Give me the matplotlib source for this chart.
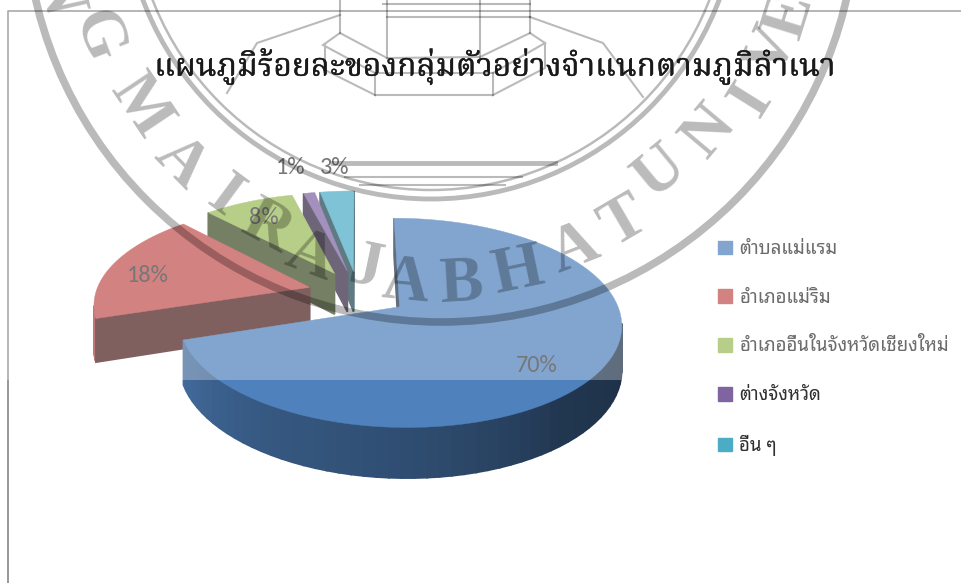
import math
import numpy as np
import matplotlib
matplotlib.use("Agg")
import matplotlib.pyplot as plt
import matplotlib.patheffects as pe
from matplotlib.colors import to_rgb
from matplotlib.patches import Circle, Patch, Polygon, Rectangle

# chart data
title = "แผนภูมิร้อยละของกลุ่มตัวอย่างจำแนกตามภูมิลำเนา"
categories = ["ตำบลแม่แรม", "อำเภอแม่ริม", "อำเภออื่นในจังหวัดเชียงใหม่", "ต่างจังหวัด", "อื่น ๆ"]
percents = [70, 18, 8, 1, 3]
colors = ["#4F81BD", "#C0504D", "#9BBB59", "#8064A2", "#4BACC6"]
label_pos = [(537, 365), (148, 275), (264, 218), (291, 167), (335, 167)]

# fake 3d: the flat pie is pushed through a perspective and then extruded
X0, Y0, A, B, K, DEPTH = 358, 293, 214, 98, 0.15, 42
EXPLODE = 0.235


def project(u, v):
    s = 1 / (1 + K * v)
    return X0 + A * u * s, Y0 - B * v * s


def depth_at(v):
    return DEPTH / (1 + K * v)


def draw_slice(ax, wedge, color):
    base = np.array(to_rgb(color))
    t = np.radians(np.linspace(wedge.theta1, wedge.theta2, 90))
    u = np.r_[wedge.center[0], wedge.center[0] + wedge.r * np.cos(t)]
    v = np.r_[wedge.center[1], wedge.center[1] + wedge.r * np.sin(t)]
    x, y = project(u, v)
    d = depth_at(v)
    n = len(x)
    area = 0.5 * np.sum(x * np.roll(y, -1) - np.roll(x, -1) * y)
    for i in range(n):
        j = (i + 1) % n
        dx, dy = x[j] - x[i], y[j] - y[i]
        nx, ny = (dy, -dx) if area > 0 else (-dy, dx)
        size = math.hypot(nx, ny) or 1
        nx, ny = nx / size, ny / size
        if ny <= 0:
            continue
        if i == 0 or j == 0:
            shade = 0.4
        else:
            shade = np.interp(nx, [-1, 0, 0.45, 1], [0.85, 0.6, 0.42, 0.38])
        quad = [(x[i], y[i]), (x[j], y[j]), (x[j], y[j] + d[j]), (x[i], y[i] + d[i])]
        ax.add_patch(Polygon(quad, fc=base * shade, ec=base * shade, lw=1.2, zorder=2))
    ax.add_patch(Polygon(np.c_[x, y], fc=base, ec=base, lw=0.3, zorder=2))


fig = plt.figure(figsize=(9.62, 5.83), dpi=100, facecolor="white")
ax = fig.add_axes([0, 0, 1, 1])
ax.set_xlim(0, 962)
ax.set_ylim(583, 0)
ax.axis("off")

# chart frame
ax.plot([8, 8, 962], [583, 11, 11], color="#868686", lw=1.2, zorder=1)

# the wedges come from pie, on a hidden axes
pie_ax = fig.add_axes([0, 0, 0.1, 0.1])
wedges, _ = pie_ax.pie(percents, explode=[EXPLODE] * len(percents), startangle=90,
                       counterclock=False, colors=colors)
pie_ax.set_visible(False)
for i in [4, 3, 2, 1, 0]:
    draw_slice(ax, wedges[i], colors[i])

for value, pos in zip(percents, label_pos):
    ax.text(pos[0], pos[1], f"{value}%", family=["Carlito", "Open Sans"], fontsize=17.5,
            color="#404040", ha="center", va="center", zorder=6)

handles = [Patch(color=c) for c in colors]
leg = ax.legend(handles, categories, loc="upper left", bbox_to_anchor=(718, 240),
                bbox_transform=ax.transData, frameon=False, borderpad=0, borderaxespad=0,
                handlelength=0.76, handleheight=0.76, handletextpad=0.38, labelspacing=1.65,
                prop={"family": "Noto Sans Thai Looped", "size": 13.4}, labelcolor="#303030")
leg.set_zorder(6)

# the scan is paler above this line
ax.add_patch(Rectangle((0, 0), 962, 380, fc="white", ec="none", alpha=0.29, zorder=10))

# university seal watermark
ink = dict(color="black", alpha=0.27, zorder=11)
ax.add_patch(Circle((441, -94), 416, fill=False, lw=5.5, ec="black", alpha=0.27, zorder=11))
ax.add_patch(Circle((431, -109), 308, fill=False, lw=3.5, ec="black", alpha=0.27, zorder=11))
ax.add_patch(Circle((431, -109), 299, fill=False, lw=1.8, ec="black", alpha=0.27, zorder=11))
letters = [("N", 58, -8), ("G", 97, 37), ("M", 140, 107), ("A", 180, 163), ("I", 225, 198),
           ("R", 267, 228), ("A", 310, 257), ("J", 365, 268), ("A", 405, 283), ("B", 462, 285),
           ("H", 518, 272), ("A", 575, 250), ("T", 625, 222), ("U", 660, 172), ("N", 710, 132),
           ("I", 752, 100), ("V", 772, 52), ("E", 790, 15)]
for ch, lx, ly in letters:
    ax.text(lx, ly, ch, family="Liberation Serif", weight="bold", fontsize=47,
            rotation=math.degrees(math.atan2(lx - 441, ly + 94)), rotation_mode="anchor",
            ha="center", va="center", clip_on=True, **ink)
emblem = [[(340, 0), (340, 33), (387, 58), (387, 0)], [(340, 33), (323, 45), (375, 73), (375, 95), (325, 70), (325, 45)],
          [(530, 0), (530, 33), (480, 57), (387, 58)], [(530, 33), (545, 43), (493, 73), (493, 95), (545, 68), (545, 43)],
          [(375, 73), (493, 73)], [(375, 95), (493, 95)], [(387, 17), (530, 17)], [(383, 4), (530, 4)],
          [(340, 15), (257, 43), (227, 93)], [(530, 17), (603, 43), (643, 97)], [(480, 0), (480, 57)],
          [(345, 177), (522, 177)], [(360, 185), (505, 185)]]
for line in emblem:
    ax.plot(*zip(*line), lw=1.5, solid_joinstyle="miter", **ink)
ax.plot([333, 555], [163, 163], lw=3.5, **ink)

ax.text(495, 67, title, family="Noto Serif Thai", fontsize=22.8, color="#1a1a1a", ha="center",
        va="center", zorder=12, path_effects=[pe.withStroke(linewidth=0.25, foreground="#1a1a1a")])

fig.savefig("out.png", dpi=100)
